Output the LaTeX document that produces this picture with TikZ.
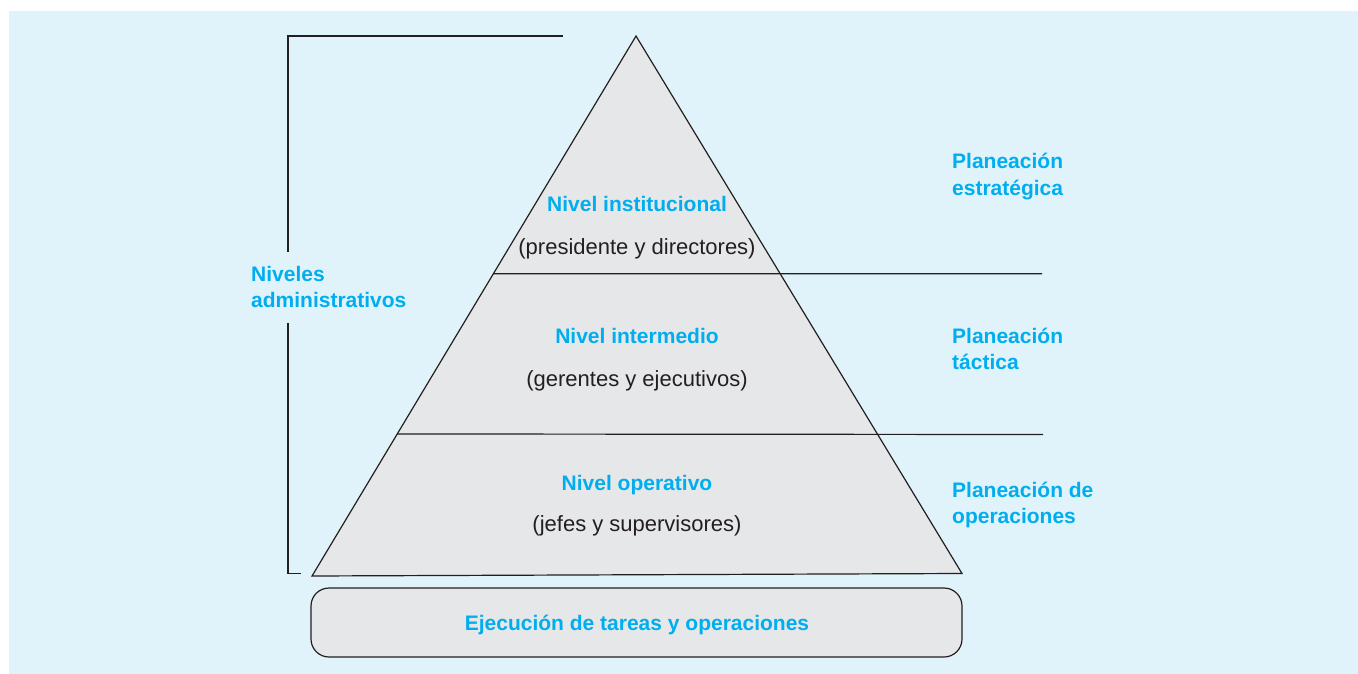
\documentclass[tikz,border=0pt]{standalone}
\usepackage{fontspec}
\setmainfont{Liberation Sans}
\usetikzlibrary{calc}
\definecolor{bgblue}{HTML}{E0F3FB}
\definecolor{fillgray}{HTML}{E6E7E8}
\definecolor{cyantext}{HTML}{00AEEF}
\definecolor{linecol}{HTML}{231F20}
\tikzset{
  title/.style={font=\fontsize{21}{26}\selectfont\bfseries, text=cyantext, inner sep=0pt},
  sub/.style={font=\fontsize{22}{26}\selectfont, text=linecol, inner sep=0pt},
  side/.style={font=\fontsize{21}{26.5}\selectfont\bfseries, text=cyantext, inner sep=0pt, align=left},
  ln/.style={draw=linecol, line width=1.2pt},
}
\begin{document}
\begin{tikzpicture}[x=1pt,y=-1pt]
\useasboundingbox (0,0) rectangle (1358,674);
\fill[bgblue] (9,11) rectangle (1358,674);
% triangle
\coordinate (apex) at (636,36);
\coordinate (bl) at (312,576);
\coordinate (br) at (962,573.5);
\coordinate (l1) at ($(apex)!0.4402!(bl)$);
\coordinate (l2) at ($(apex)!0.737!(bl)$);
\coordinate (r1) at (1042,273.7);
\coordinate (r2) at (1043,434.5);
\fill[fillgray] (apex) -- (bl) -- (br) -- cycle;
\draw[ln, line join=miter] (apex) -- (bl) -- (br) -- cycle;
\draw[ln] (l1) -- (r1);
\draw[ln] (l2) -- (r2);
% bracket
\coordinate (bt1) at (563,36);
\coordinate (bt2) at (288,36);
\coordinate (bt3) at (288,252);
\coordinate (bb1) at (288,323);
\coordinate (bb2) at (288,573.5);
\coordinate (bb3) at (301,573.5);
\draw[ln] (bt1) -- (bt2) -- (bt3);
\draw[ln] (bb1) -- (bb2) -- (bb3);
% base box
\node[draw=linecol, line width=1.2pt, fill=fillgray, rounded corners=18pt,
      minimum width=651pt, minimum height=69pt, inner sep=0pt] (base) at (636.5,622.5) {};
\node[title, anchor=base] (ejec) at (637,630) {Ejecución de tareas y operaciones};
% level texts
\node[title, anchor=base] (n1) at (637,211.7) {Nivel institucional};
\node[sub, anchor=base] (s1) at (637,254) {(presidente y directores)};
\node[title, anchor=base] (n2) at (637,343) {Nivel intermedio};
\node[sub, anchor=base] (s2) at (637,386) {(gerentes y ejecutivos)};
\node[title, anchor=base] (n3) at (637,490.5) {Nivel operativo};
\node[sub, anchor=base] (s3) at (637,531) {(jefes y supervisores)};
% side texts (base anchor = baseline of last line)
\node[side, anchor=base west] (niv) at (251,307.5) {Niveles\\administrativos};
\node[side, anchor=base west] (pe) at (952,195.5) {Planeación\\estratégica};
\node[side, anchor=base west] (pt) at (952,369.5) {Planeación\\táctica};
\node[side, anchor=base west] (po) at (952,523.5) {Planeación de\\operaciones};
\end{tikzpicture}
\end{document}
